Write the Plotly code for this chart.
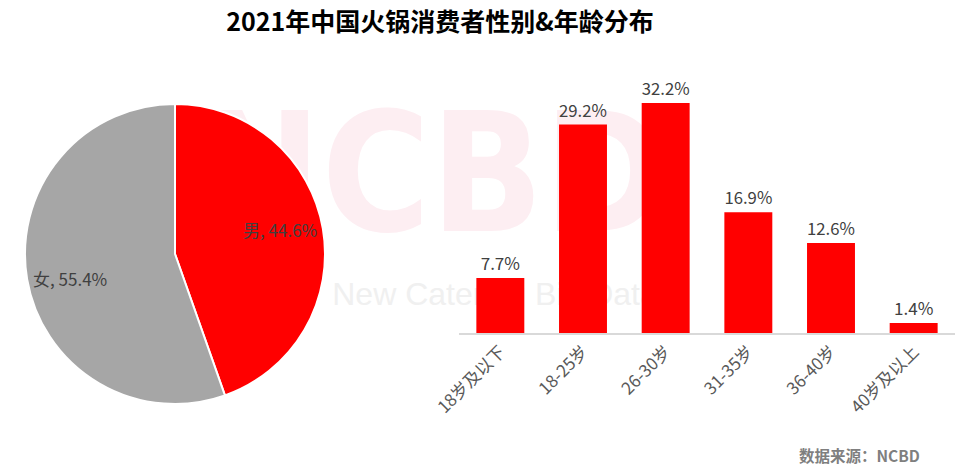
import math
import plotly.graph_objects as go

# ---- data ----
gender_labels = ["男", "女"]
gender_values = [44.6, 55.4]
age_groups = ["18岁及以下", "18-25岁", "26-30岁", "31-35岁", "36-40岁", "40岁及以上"]
age_values = [7.7, 29.2, 32.2, 16.9, 12.6, 1.4]

W, H = 963, 470
FONT = "Noto Sans CJK SC, Microsoft YaHei, sans-serif"

# pie geometry (pixels)
PCX, PCY, PR = 175, 254, 150

fig = go.Figure()

# watermark (drawn first, underneath everything)
fig.add_trace(go.Scatter(
    x=[432], y=[H - 190], mode="text", text=["NCBD"],
    textfont=dict(family="DejaVu Sans Condensed, Liberation Sans Narrow, Liberation Sans, sans-serif",
                  size=165, color="#fdeef2", weight="bold"),
    xaxis="x", yaxis="y", hoverinfo="skip", showlegend=False))
fig.add_trace(go.Scatter(
    x=[495], y=[H - 297], mode="text", text=["New Catering Big Data"],
    textfont=dict(family="Liberation Sans, Arial, sans-serif", size=32, color="#f0f0f0"),
    xaxis="x", yaxis="y", hoverinfo="skip", showlegend=False))

# bars
fig.add_trace(go.Bar(
    x=age_groups, y=age_values, xaxis="x2", yaxis="y2",
    marker=dict(color="#ff0000", line=dict(width=0)),
    width=0.58,
    text=[f"{v}%" for v in age_values], textposition="outside",
    textfont=dict(family=FONT, size=17, color="#404040"),
    cliponaxis=False, showlegend=False, hoverinfo="skip"))

# pie
fig.add_trace(go.Pie(
    labels=gender_labels, values=gender_values, sort=False, direction="clockwise",
    rotation=0,
    marker=dict(colors=["#ff0000", "#a6a6a6"], line=dict(color="white", width=2)),
    textinfo="none",
    domain=dict(x=[(PCX - PR) / W, (PCX + PR) / W], y=[(H - PCY - PR) / H, (H - PCY + PR) / H]),
    showlegend=False, hoverinfo="skip"))

# pie labels placed near each slice's mid-angle
annotations = []
total = sum(gender_values)
cum = 0.0
for lab, val in zip(gender_labels, gender_values):
    mid = (cum + val / 2) / total * 2 * math.pi
    cum += val
    px = PCX + 0.71 * PR * math.sin(mid)
    py = PCY - 0.71 * PR * math.cos(mid) * 1.35
    annotations.append(dict(text=f"{lab}, {val}%", x=px / W, y=1 - py / H,
                            xref="paper", yref="paper", xanchor="center", yanchor="middle",
                            showarrow=False,
                            font=dict(family=FONT, size=17, color="#404040")))

annotations.append(dict(text="<b>数据来源：NCBD</b>", x=922 / W, y=1 - 455 / H,
                        xref="paper", yref="paper", xanchor="right", yanchor="middle",
                        showarrow=False,
                        font=dict(family="Noto Sans CJK SC, sans-serif", size=15.5, color="#7f7f7f")))

fig.update_layout(
    width=W, height=H,
    margin=dict(l=0, r=0, t=0, b=0),
    paper_bgcolor="white", plot_bgcolor="rgba(0,0,0,0)",
    title=dict(text="<b>2021年中国火锅消费者性别&年龄分布</b>", x=440 / W, xanchor="center",
               y=1 - 22 / H, yanchor="middle",
               font=dict(family=FONT, size=25, color="#000000")),
    xaxis=dict(domain=[0, 1], range=[0, W], visible=False, fixedrange=True),
    yaxis=dict(domain=[0, 1], range=[0, H], visible=False, fixedrange=True),
    xaxis2=dict(domain=[459 / W, 955 / W], anchor="y2", showgrid=False,
                showline=True, linecolor="#d9d9d9", linewidth=2, ticks="",
                tickangle=-45, automargin=False,
                tickfont=dict(family=FONT, size=17, color="#595959")),
    yaxis2=dict(domain=[(H - 333) / H, (H - 83) / H], anchor="x2", range=[0, 35],
                visible=False, showgrid=False, zeroline=False),
    annotations=annotations,
)

fig.write_html("out.html", config={"displayModeBar": False},
               post_script="document.body.style.margin='0px';")
